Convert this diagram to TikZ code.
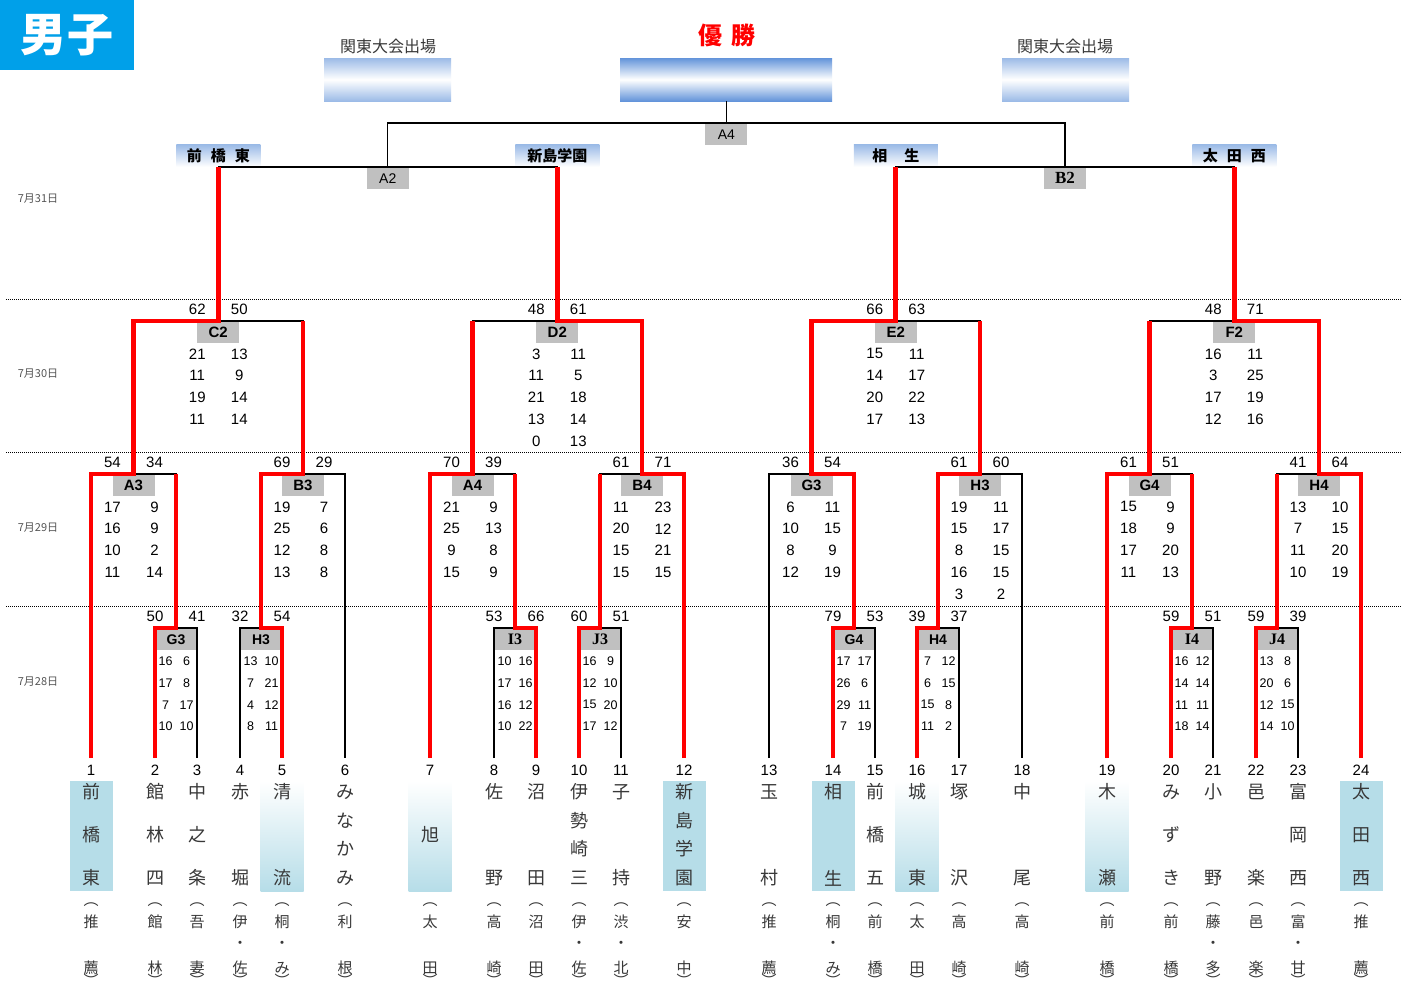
\documentclass[tikz,border=0pt]{standalone}
\usepackage{fontspec}
\setmainfont{Liberation Sans}
\newfontfamily\jp{Noto Sans CJK JP}
\newfontfamily\serifb{Liberation Serif}
\usetikzlibrary{calc}
\definecolor{lineRed}{HTML}{FF0000}
\definecolor{boxgray}{HTML}{C0C0C0}
\definecolor{hdrblue}{HTML}{00A0E9}
\definecolor{cyanhl}{HTML}{B6DDE8}
\definecolor{kblue}{HTML}{9CBBE7}
\definecolor{wblue}{HTML}{6394DA}
\definecolor{nmgray}{HTML}{383838}
\definecolor{daygray}{HTML}{555555}

\newcommand\bracket[3]{\draw[blk] (#2) -- (#2 |- #1) -- (#3 |- #1) -- (#3);}
\newcommand\winpath[3]{\draw[winline] (#2) -- (#2 |- #1) -- (#1) -- (#1 |- #3);}
\newcommand\gbx[3][]{\node[matchbox,#1] (lbl-#2) at (#2) {#3};}
\newcommand\topsc[3]{\node[sc] (#1-tl) at ($(#1)+(-21,-11.5)$) {#2};\node[sc] (#1-tr) at ($(#1)+(21,-11.5)$) {#3};}
\newcommand\scores[4]{\foreach \a/\b [count=\i] in {#4} {\node[#3] (#1-s\i-l) at ($(#1)+(-#2,{11+21.9*\i})$) {\a};\node[#3] (#1-s\i-r) at ($(#1)+(#2,{11+21.9*\i})$) {\b};}}
\newcommand\nm[4]{\node[nametxt] (nm#1#2) at ($(t#1)+(0,#3)$) {#4};}
\newcommand\nameI[2]{\nm{#1}{a}{77}{#2}}
\newcommand\nameII[3]{\nm{#1}{a}{34}{#2}\nm{#1}{b}{120}{#3}}
\newcommand\nameIII[4]{\nm{#1}{a}{34}{#2}\nm{#1}{b}{77}{#3}\nm{#1}{c}{120}{#4}}
\newcommand\nameIV[5]{\nm{#1}{a}{34}{#2}\nm{#1}{b}{63}{#3}\nm{#1}{c}{91}{#4}\nm{#1}{d}{120}{#5}}
\newcommand\affil[3]{\node[afftxt] (af#1o) at ($(t#1)+(0,147)$) {︵};\node[afftxt] (af#1a) at ($(t#1)+(0,164)$) {#2};\node[afftxt] (af#1b) at ($(t#1)+(0,210)$) {#3};\node[afftxt,text height=4pt,text depth=0pt] (af#1c) at ($(t#1)+(0,226.7)$) {︶};}
\newcommand\affild[3]{\affil{#1}{#2}{#3}\node[afftxt] (af#1d) at ($(t#1)+(0,187)$) {・};}

\begin{document}
\begin{tikzpicture}[x=1pt,y=-1pt,
  blk/.style={line width=1.4pt,black},
  winline/.style={line width=4.6pt,lineRed},
  matchbox/.style={fill=boxgray,minimum width=42pt,minimum height=22pt,inner sep=0pt,anchor=north,font=\bfseries\fontsize{15}{15}\selectfont},
  sc/.style={font=\fontsize{15}{15}\selectfont,inner sep=0pt},
  scs/.style={font=\fontsize{12.5}{12.5}\selectfont,inner sep=0pt},
  nametxt/.style={font=\jp\fontsize{18}{18}\selectfont,text=nmgray,inner sep=0pt},
  afftxt/.style={font=\jp\fontsize{15}{15}\selectfont,text=nmgray,inner sep=0pt},
  daytxt/.style={font=\jp\fontsize{11}{11}\selectfont,text=daygray,inner sep=0pt},
  wlabel/.style={top color=kblue,bottom color=white,draw=none,minimum width=84pt,minimum height=22pt,inner sep=0pt,font=\jp\bfseries\fontsize{15}{15}\selectfont,anchor=south}
]
\useasboundingbox (0,0) rectangle (1404,986);
\fill[white] (0,0) rectangle (1404,986);

% header
\fill[hdrblue] (0,0) rectangle (134,70);
\node[text=white,inner sep=0pt,font=\jp\bfseries\fontsize{46}{46}\selectfont] (title) at (67,35) {男\hspace{2pt}子};
\node[inner sep=0pt,text=nmgray,font=\jp\fontsize{16}{16}\selectfont] (kantoL) at (388,46) {関東大会出場};
\node[inner sep=0pt,text=nmgray,font=\jp\fontsize{16}{16}\selectfont] (kantoR) at (1065,46) {関東大会出場};
\node[inner sep=0pt,text=lineRed,font=\jp\bfseries\fontsize{24}{24}\selectfont] (yusho) at (727,35) {優\hspace{10pt}勝};
\shade[top color=kblue,bottom color=kblue,middle color=white] (324,58) rectangle (451,101);
\shade[top color=kblue,bottom color=kblue,middle color=white] (1002,58) rectangle (1129,101);
\shade[top color=wblue,bottom color=wblue,middle color=white] (620,58) rectangle (832,101);

% day labels and dotted separators
\node[daytxt] (d31) at (38,199) {7月31日};
\node[daytxt] (d30) at (38,374) {7月30日};
\node[daytxt] (d29) at (38,528) {7月29日};
\node[daytxt] (d28) at (38,682) {7月28日};
\foreach \yy in {299,452,606} {\draw[line width=1pt,dash pattern=on 1pt off 1pt] (6,\yy) -- (1402,\yy);}

% team bottoms
\foreach \k/\xx in {1/91,2/155,3/197,4/240,5/282,6/345,7/430,8/494,9/536,10/579,11/621,12/684,13/769,14/833,15/875,16/917,17/959,18/1022,19/1107,20/1171,21/1213,22/1256,23/1298,24/1361}
  {\coordinate (t\k) at (\xx,758);}
% matches
\coordinate (r1G3) at (176,628); \coordinate (r1H3) at (261,628);
\coordinate (r1I3) at (515,628); \coordinate (r1J3) at (600,628);
\coordinate (r1G4) at (854,628); \coordinate (r1H4) at (938,628);
\coordinate (r1I4) at (1192,628); \coordinate (r1J4) at (1277,628);
\coordinate (r2A3) at (133.5,474); \coordinate (r2B3) at (303,474);
\coordinate (r2A4) at (472.5,474); \coordinate (r2B4) at (642,474);
\coordinate (r2G3) at (811.5,474); \coordinate (r2H3) at (980,474);
\coordinate (r2G4) at (1149.5,474); \coordinate (r2H4) at (1319,474);
\coordinate (C2) at (218.25,321); \coordinate (D2) at (557.25,321);
\coordinate (E2) at (895.75,321); \coordinate (F2) at (1234.25,321);
\coordinate (A2) at (387.75,167); \coordinate (B2) at (1065,167);
\coordinate (FA4) at (726.4,123); \coordinate (champ) at (726.4,101);

% name highlights
\foreach \k in {1,12,14,24} {\fill[cyanhl] ($(t\k)+(-21.5,23)$) rectangle ($(t\k)+(21.5,133)$);}
\foreach \k in {5,7,16,19} {\shade[top color=white,bottom color=cyanhl] ($(t\k)+(-21.5,23)$) rectangle ($(t\k)+(21.5,133)$);}

% match boxes
\gbx[font=\bfseries\fontsize{14}{14}\selectfont]{r1G3}{G3}
\gbx[font=\bfseries\fontsize{14}{14}\selectfont]{r1H3}{H3}
\gbx[font=\serifb\bfseries\fontsize{16}{16}\selectfont]{r1I3}{I3}
\gbx[font=\serifb\bfseries\fontsize{16}{16}\selectfont]{r1J3}{J3}
\gbx[font=\bfseries\fontsize{14}{14}\selectfont]{r1G4}{G4}
\gbx[font=\bfseries\fontsize{14}{14}\selectfont]{r1H4}{H4}
\gbx[font=\serifb\bfseries\fontsize{16}{16}\selectfont]{r1I4}{I4}
\gbx[font=\serifb\bfseries\fontsize{16}{16}\selectfont]{r1J4}{J4}
\gbx{r2A3}{A3} \gbx{r2B3}{B3} \gbx{r2A4}{A4} \gbx{r2B4}{B4}
\gbx{r2G3}{G3} \gbx{r2H3}{H3} \gbx{r2G4}{G4} \gbx{r2H4}{H4}
\gbx{C2}{C2} \gbx{D2}{D2} \gbx{E2}{E2} \gbx{F2}{F2}
\gbx[font=\fontsize{14}{14}\selectfont]{A2}{A2}
\gbx[font=\serifb\bfseries\fontsize{17}{17}\selectfont]{B2}{B2}
\gbx[font=\fontsize{14}{14}\selectfont]{FA4}{A4}

% winner labels
\node[wlabel] (wl1) at (C2 |- A2) {前\hspace{9pt}橋\hspace{9pt}東};
\node[wlabel] (wl2) at (D2 |- A2) {新島学園};
\node[wlabel] (wl3) at (E2 |- A2) {相\hspace{17pt}生};
\node[wlabel] (wl4) at (F2 |- A2) {太\hspace{9pt}田\hspace{9pt}西};

% brackets
\bracket{r1G3}{t2}{t3} \bracket{r1H3}{t4}{t5} \bracket{r1I3}{t8}{t9} \bracket{r1J3}{t10}{t11}
\bracket{r1G4}{t14}{t15} \bracket{r1H4}{t16}{t17} \bracket{r1I4}{t20}{t21} \bracket{r1J4}{t22}{t23}
\bracket{r2A3}{t1}{r1G3} \bracket{r2B3}{r1H3}{t6} \bracket{r2A4}{t7}{r1I3} \bracket{r2B4}{r1J3}{t12}
\bracket{r2G3}{t13}{r1G4} \bracket{r2H3}{r1H4}{t18} \bracket{r2G4}{t19}{r1I4} \bracket{r2H4}{r1J4}{t24}
\bracket{C2}{r2A3}{r2B3} \bracket{D2}{r2A4}{r2B4} \bracket{E2}{r2G3}{r2H3} \bracket{F2}{r2G4}{r2H4}
\bracket{A2}{C2}{D2} \bracket{B2}{E2}{F2}
\bracket{FA4}{A2}{B2}
\draw[blk] (FA4) -- (champ);

% winning paths
\winpath{r1G3}{t2}{r2A3} \winpath{r1H3}{t5}{r2B3} \winpath{r1I3}{t9}{r2A4} \winpath{r1J3}{t10}{r2B4}
\winpath{r1G4}{t14}{r2G3} \winpath{r1H4}{t16}{r2H3} \winpath{r1I4}{t20}{r2G4} \winpath{r1J4}{t22}{r2H4}
\winpath{r2A3}{t1}{C2} \winpath{r2B3}{r1H3}{C2} \winpath{r2A4}{t7}{D2} \winpath{r2B4}{t12}{D2}
\winpath{r2G3}{r1G4}{E2} \winpath{r2H3}{r1H4}{E2} \winpath{r2G4}{t19}{F2} \winpath{r2H4}{t24}{F2}
\winpath{C2}{r2A3}{A2} \winpath{D2}{r2B4}{A2} \winpath{E2}{r2G3}{B2} \winpath{F2}{r2H4}{B2}

% scores round 1
\topsc{r1G3}{50}{41} \scores{r1G3}{10.5}{scs}{16/6,17/8,7/17,10/10}
\topsc{r1H3}{32}{54} \scores{r1H3}{10.5}{scs}{13/10,7/21,4/12,8/11}
\topsc{r1I3}{53}{66} \scores{r1I3}{10.5}{scs}{10/16,17/16,16/12,10/22}
\topsc{r1J3}{60}{51} \scores{r1J3}{10.5}{scs}{16/9,12/10,15/20,17/12}
\topsc{r1G4}{79}{53} \scores{r1G4}{10.5}{scs}{17/17,26/6,29/11,7/19}
\topsc{r1H4}{39}{37} \scores{r1H4}{10.5}{scs}{7/12,6/15,15/8,11/2}
\topsc{r1I4}{59}{51} \scores{r1I4}{10.5}{scs}{16/12,14/14,11/11,18/14}
\topsc{r1J4}{59}{39} \scores{r1J4}{10.5}{scs}{13/8,20/6,12/15,14/10}
% round 2
\topsc{r2A3}{54}{34} \scores{r2A3}{21}{sc}{17/9,16/9,10/2,11/14}
\topsc{r2B3}{69}{29} \scores{r2B3}{21}{sc}{19/7,25/6,12/8,13/8}
\topsc{r2A4}{70}{39} \scores{r2A4}{21}{sc}{21/9,25/13,9/8,15/9}
\topsc{r2B4}{61}{71} \scores{r2B4}{21}{sc}{11/23,20/12,15/21,15/15}
\topsc{r2G3}{36}{54} \scores{r2G3}{21}{sc}{6/11,10/15,8/9,12/19}
\topsc{r2H3}{61}{60} \scores{r2H3}{21}{sc}{19/11,15/17,8/15,16/15,3/2}
\topsc{r2G4}{61}{51} \scores{r2G4}{21}{sc}{15/9,18/9,17/20,11/13}
\topsc{r2H4}{41}{64} \scores{r2H4}{21}{sc}{13/10,7/15,11/20,10/19}
% round 3
\topsc{C2}{62}{50} \scores{C2}{21}{sc}{21/13,11/9,19/14,11/14}
\topsc{D2}{48}{61} \scores{D2}{21}{sc}{3/11,11/5,21/18,13/14,0/13}
\topsc{E2}{66}{63} \scores{E2}{21}{sc}{15/11,14/17,20/22,17/13}
\topsc{F2}{48}{71} \scores{F2}{21}{sc}{16/11,3/25,17/19,12/16}

% team numbers
\foreach \k in {1,...,24} {\node[sc] (num\k) at ($(t\k)+(0,12.5)$) {\k};}

% team names
\nameIII{1}{前}{橋}{東}
\nameIII{2}{館}{林}{四}
\nameIII{3}{中}{之}{条}
\nameII{4}{赤}{堀}
\nameII{5}{清}{流}
\nameIV{6}{み}{な}{か}{み}
\nameI{7}{旭}
\nameII{8}{佐}{野}
\nameII{9}{沼}{田}
\nameIV{10}{伊}{勢}{崎}{三}
\nameII{11}{子}{持}
\nameIV{12}{新}{島}{学}{園}
\nameII{13}{玉}{村}
\nameII{14}{相}{生}
\nameIII{15}{前}{橋}{五}
\nameII{16}{城}{東}
\nameII{17}{塚}{沢}
\nameII{18}{中}{尾}
\nameII{19}{木}{瀬}
\nameIII{20}{み}{ず}{き}
\nameII{21}{小}{野}
\nameII{22}{邑}{楽}
\nameIII{23}{富}{岡}{西}
\nameIII{24}{太}{田}{西}

% affiliations
\affil{1}{推}{薦} \affil{2}{館}{林} \affil{3}{吾}{妻} \affild{4}{伊}{佐}
\affild{5}{桐}{み} \affil{6}{利}{根} \affil{7}{太}{田} \affil{8}{高}{崎}
\affil{9}{沼}{田} \affild{10}{伊}{佐} \affild{11}{渋}{北} \affil{12}{安}{中}
\affil{13}{推}{薦} \affild{14}{桐}{み} \affil{15}{前}{橋} \affil{16}{太}{田}
\affil{17}{高}{崎} \affil{18}{高}{崎} \affil{19}{前}{橋} \affil{20}{前}{橋}
\affild{21}{藤}{多} \affil{22}{邑}{楽} \affild{23}{富}{甘} \affil{24}{推}{薦}
\end{tikzpicture}
\end{document}
